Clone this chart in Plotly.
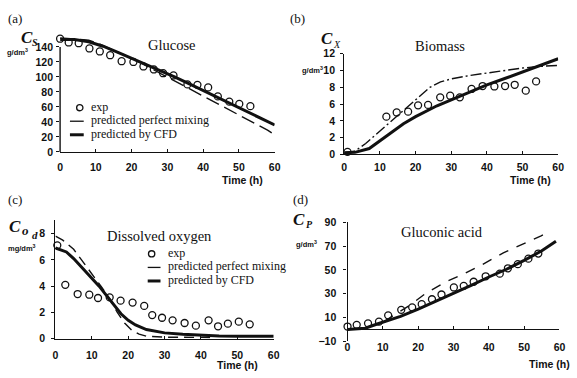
import plotly.graph_objects as go

W, H = 577, 378

# ---------------- data ----------------
glu_t_exp = [0, 2.4, 5.2, 8.2, 11.1, 14, 17.2, 20.5, 23.3, 26.2, 28.8, 31.7, 35.6, 38.4, 41.4, 44.1, 47.3, 50.1, 53.2]
glu_exp = [151, 146, 145, 138, 134, 129, 121, 120, 114, 110, 105, 102, 90, 89.5, 86, 74, 67, 64, 61]
glu_t_mix = [0, 4, 8, 10, 14, 18, 22, 26, 30, 34, 38, 42, 46, 50, 54, 58, 60]
glu_mix = [152, 151, 149, 146, 138, 129, 120, 110, 100, 90, 80, 70, 60, 50, 40, 29, 23]
glu_t_cfd = [0, 4, 8, 12, 16, 20, 24, 28, 32, 36, 40, 44, 48, 52, 56, 60]
glu_cfd = [150, 150, 147, 141, 133, 125, 117, 109, 100, 91, 82, 73, 64, 55, 46, 36]

bio_t_exp = [0.9, 11.8, 14.7, 17.9, 20.7, 23.5, 26.9, 29.7, 32.4, 35.7, 38.8, 42.1, 45.1, 47.8, 50.9, 53.8]
bio_exp = [0.3, 4.5, 5.0, 5.1, 5.85, 5.9, 6.8, 7.0, 6.8, 7.8, 8.15, 8.1, 8.15, 8.3, 7.6, 8.7]
bio_t_mix = [0, 3, 6, 9, 12, 15, 18, 21, 24, 27, 30, 35, 40, 45, 50, 55, 60]
bio_mix = [0.2, 0.4, 1.3, 2.4, 3.5, 4.7, 5.8, 6.9, 8.0, 8.65, 9.0, 9.4, 9.7, 10.0, 10.3, 10.5, 10.6]
bio_t_cfd = [0, 3, 7, 10, 13, 16.6, 20, 23, 26, 30, 35, 40, 45, 50, 55, 60]
bio_cfd = [0.2, 0.25, 0.7, 1.6, 2.6, 3.65, 4.5, 5.2, 5.8, 6.5, 7.4, 8.3, 9.05, 9.85, 10.6, 11.4]

do_t_exp = [0.5, 2.7, 6.1, 9.3, 11.7, 14.9, 17.9, 21.2, 24.4, 26.6, 29.3, 32.2, 35.5, 38.6, 42.1, 44.7, 47.4, 50.4, 53.4]
do_exp = [7.1, 4.1, 3.4, 3.35, 3.1, 3.15, 2.9, 2.75, 2.5, 1.8, 1.6, 1.4, 1.2, 1.0, 1.4, 0.95, 1.15, 1.3, 1.1]
do_t_mix = [0, 2, 5, 8, 10, 12.5, 15, 17, 19, 21, 23, 25, 30, 35, 40, 44]
do_mix = [7.8, 7.5, 6.8, 5.7, 5.0, 4.0, 3.0, 2.0, 1.2, 0.65, 0.35, 0.2, 0.12, 0.1, 0.1, 0.1]
do_t_cfd = [0, 3, 5, 8, 10, 12, 14, 16, 18, 20, 22, 25, 30, 35, 40, 45, 50, 60]
do_cfd = [6.9, 6.6, 6.1, 5.2, 4.6, 4.0, 3.3, 2.6, 1.9, 1.4, 1.05, 0.7, 0.45, 0.35, 0.27, 0.22, 0.2, 0.2]

glc_t_exp = [0, 2.6, 5.8, 8.9, 11.5, 15.2, 18.3, 21, 23.9, 26.6, 30.1, 32.9, 35.7, 39.1, 43.1, 45.4, 48.2, 51.2, 54]
glc_exp = [2.4, 3.8, 5.1, 6.5, 11.8, 16.4, 18.5, 21.2, 25.3, 29.3, 35.2, 36.6, 40, 44.6, 46.8, 51.3, 54.8, 59.4, 63.7]
glc_t_mix = [0, 5, 10, 15, 18, 22.3, 27.9, 32.7, 38.1, 44.1, 49.7, 54.8, 57.1]
glc_mix = [0, 1.5, 6, 15, 21, 30.6, 40, 46.3, 54.3, 64.3, 71.5, 78.5, 82]
glc_t_cfd = [0, 5, 8.4, 10, 15, 20, 25, 30, 35, 40, 45, 50, 55, 59]
glc_cfd = [0, 1, 4.5, 6, 11, 17, 23.5, 30, 37, 44, 50.5, 58, 66, 74]

titles = ["Glucose", "Biomass", "Dissolved oxygen", "Gluconic acid"]
panel_tags = ["(a)", "(b)", "(c)", "(d)"]
legend_labels = ["exp", "predicted perfect mixing", "predicted by CFD"]
x_ticks = [0, 10, 20, 30, 40, 50, 60]

# ---------------- helpers ----------------
def px(x):
    return x / W

def py(y):
    return 1 - y / H

SANS = "Liberation Sans"
SERIF = "Liberation Serif"
INK = "#111111"

fig = go.Figure()

panels = [
    (glu_t_exp, glu_exp, glu_t_mix, glu_mix, glu_t_cfd, glu_cfd, "14px,6px"),
    (bio_t_exp, bio_exp, bio_t_mix, bio_mix, bio_t_cfd, bio_cfd, "11px,3px,2px,3px"),
    (do_t_exp, do_exp, do_t_mix, do_mix, do_t_cfd, do_cfd, "10px,6px"),
    (glc_t_exp, glc_exp, glc_t_mix, glc_mix, glc_t_cfd, glc_cfd, "10px,9px"),
]

for i, (te, ve, tm, vm, tc, vc, dash) in enumerate(panels):
    xa = "x" if i == 0 else f"x{i+1}"
    ya = "y" if i == 0 else f"y{i+1}"
    fig.add_trace(go.Scatter(x=tm, y=vm, mode="lines", xaxis=xa, yaxis=ya,
                             line=dict(color=INK, width=1.4, dash=dash), showlegend=False))
    fig.add_trace(go.Scatter(x=tc, y=vc, mode="lines", xaxis=xa, yaxis=ya,
                             line=dict(color=INK, width=3), showlegend=False))
    fig.add_trace(go.Scatter(x=te, y=ve, mode="markers", xaxis=xa, yaxis=ya, cliponaxis=False,
                             marker=dict(symbol="circle-open", size=7, color=INK, line=dict(width=1.3, color=INK)),
                             showlegend=False))

tickfont = dict(family=SANS, size=10.5, color=INK, weight="bold")

def xaxis(dom, anchor, position=None, standoff=3):
    d = dict(domain=dom, range=[0, 60], tickvals=x_ticks, showgrid=False, zeroline=False,
             showline=True, linecolor=INK, linewidth=1.4, ticks="inside", ticklen=3, tickwidth=1.3,
             tickcolor=INK, tickfont=tickfont, ticklabelstandoff=standoff, fixedrange=True)
    if position is not None:
        d.update(anchor="free", position=position)
    else:
        d.update(anchor=anchor)
    return d

def yaxis(dom, anchor, rng, vals, showline=True, standoff=3):
    return dict(domain=dom, anchor=anchor, range=rng, tickvals=vals, showgrid=False, zeroline=False,
                showline=showline, linecolor=INK, linewidth=1.4, ticks="outside", ticklen=3, tickwidth=1.3,
                tickcolor=INK, tickfont=tickfont, ticklabelstandoff=standoff, fixedrange=True)

# panel geometry in pixels
a_x = (58, 276); a_y0 = 150.7; a_unit = 0.7743
b_x = (346.7, 564); b_y0 = 153.3; b_y1 = 49.3
c_x = (53.3, 275); c_y0 = 343.7; c_unit = 13.59
d_x = (350, 565.3); d_ybot = 346.3; d_ytop = 223.3; d_zero = 334.0

a_top_val = 155
fig.update_layout(
    xaxis=xaxis([px(a_x[0]), px(a_x[1])], "y", standoff=5),
    yaxis=yaxis([py(a_y0), py(a_y0 - a_top_val * a_unit)], "x", [0, a_top_val], list(range(0, 141, 20)),
                showline=False, standoff=1),
    xaxis2=xaxis([px(b_x[0]), px(b_x[1])], "y2", standoff=3),
    yaxis2=yaxis([py(b_y0), py(b_y1)], "x2", [0, 12], list(range(0, 13, 2))),
    xaxis3=xaxis([px(c_x[0]), px(c_x[1])], "y3", standoff=6),
    yaxis3=yaxis([py(c_y0), py(c_y0 - 9 * c_unit)], "x3", [0, 9], list(range(0, 9, 2)), standoff=4),
    xaxis4=xaxis([px(d_x[0]), px(d_x[1])], "y4", position=py(d_zero), standoff=8),
    yaxis4=yaxis([py(d_ybot), py(d_ytop)], "x4", [-10, 90], list(range(-10, 91, 20)), standoff=5),
)

# y axis line of panel (a) only up to 140
fig.add_shape(type="line", xref="x domain", yref="y domain", x0=0, x1=0, y0=0, y1=140 / a_top_val,
              line=dict(color=INK, width=1.4))

ann = []
def text(x, y, s, size, family=SERIF, xanchor="center", yanchor="middle", **kw):
    f = dict(family=family, size=size, color=INK)
    f.update(kw)
    ann.append(dict(x=px(x), y=py(y), xref="paper", yref="paper", text=s, showarrow=False,
                    xanchor=xanchor, yanchor=yanchor, font=f))

# panel tags
for (x, y), s in zip([(12, 13), (299, 13), (12, 200), (302, 200)], panel_tags):
    text(x, y, s, 13)
# titles
for (x, y), s in zip([(172, 40), (444, 41), (159, 238), (446, 233)], titles):
    text(x, y, s, 14.5)
# Time (h)
for (x, y) in [(243, 180), (536, 180), (238, 371), (555, 370)]:
    text(x, y, "Time (h)", 10.5, family=SANS, weight="bold")

# y-axis symbols
text(24, 33, "C", 17, style="italic", weight="bold")
text(32.5, 38, "S", 10, style="italic", weight="bold")
text(27, 48, "g/dm<sup>3</sup>", 7.5, family=SANS, xanchor="right", weight="bold")

text(329, 34, "C", 17, style="italic", weight="bold")
text(339, 40, "X", 10, style="italic")
text(327, 66, "g/dm<sup>3</sup>", 7.5, family=SANS, xanchor="right", weight="bold")

text(12, 228, "C", 17, style="italic", weight="bold")
text(22.5, 232, "o", 13, style="italic", weight="bold")
text(32, 237, "d", 11, style="italic", weight="bold")
text(36, 250, "mg/dm<sup>3</sup>", 7.5, family=SANS, xanchor="right", weight="bold")

text(301, 220, "C", 17, style="italic", weight="bold")
text(311, 226, "P", 10, style="italic", weight="bold")
text(321, 246, "g/dm<sup>3</sup>", 7.5, family=SANS, xanchor="right", weight="bold")

# legends (a) and (c)
def legend(mx, lx0, lx1, tx, ys):
    r = 3.2
    fig.add_shape(type="circle", xref="paper", yref="paper", x0=px(mx - r), x1=px(mx + r),
                  y0=py(ys[0] + r), y1=py(ys[0] - r), line=dict(color=INK, width=1.3))
    fig.add_shape(type="line", xref="paper", yref="paper", x0=px(lx0), x1=px(lx1), y0=py(ys[1]), y1=py(ys[1]),
                  line=dict(color=INK, width=1.3))
    fig.add_shape(type="line", xref="paper", yref="paper", x0=px(lx0), x1=px(lx1), y0=py(ys[2]), y1=py(ys[2]),
                  line=dict(color=INK, width=3))
    for y, s in zip(ys, legend_labels):
        text(tx, y - 1, s, 12, xanchor="left")

legend(78, 68, 82, 87, [105, 119, 133])
legend(151, 147, 160, 166, [256, 270, 284])

fig.update_layout(annotations=ann, width=W, height=H, margin=dict(l=0, r=0, t=0, b=0),
                  paper_bgcolor="white", plot_bgcolor="white", showlegend=False)

fig.write_html("out.html")
